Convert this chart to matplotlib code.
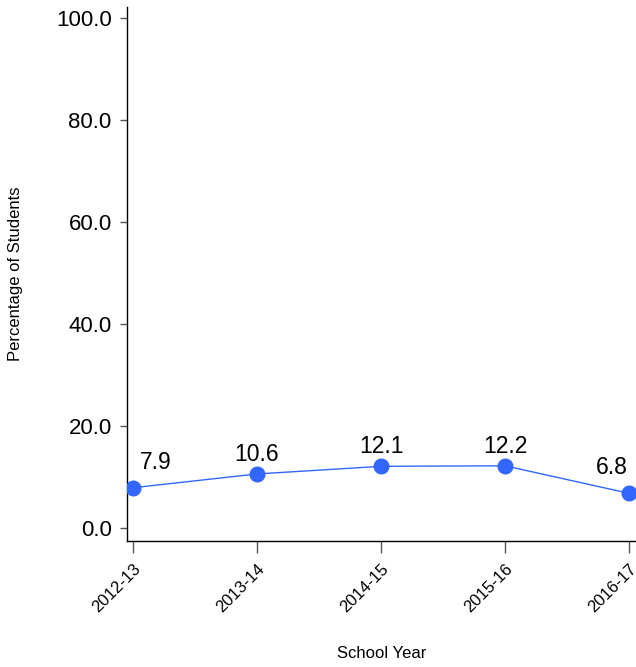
import matplotlib.pyplot as plt

years = ["2012-13", "2013-14", "2014-15", "2015-16", "2016-17"]
pct = [7.9, 10.6, 12.1, 12.2, 6.8]
yticks = [0, 20, 40, 60, 80, 100]

plt.rcParams["font.family"] = ["Liberation Sans", "DejaVu Sans"]

fig = plt.figure(figsize=(6.36, 6.67), dpi=100)
ax = fig.add_axes([127 / 636, 126 / 667, 509 / 636, 534 / 667])

x = list(range(len(years)))
ax.plot(x, pct, color="#3366ff", lw=1, marker="o", ms=10.5, clip_on=True, zorder=3)

# value labels; first nudged right, last nudged left
for i, v in enumerate(pct):
    dx, dy = 0, 8
    if i == 0:
        dx, dy = 23, 14
    elif i == len(pct) - 1:
        dx, dy = -17, 14
    ax.annotate(f"{v:.1f}", (i, v), xytext=(dx * 0.72, dy * 0.72), textcoords="offset points",
                ha="center", va="bottom", fontsize=16.5, color="black")

ax.set_xlim(-0.048, 4.056)
ax.set_ylim(-2.55, 102.2)
ax.set_yticks(yticks)
ax.set_yticklabels([f"{t:.1f}" for t in yticks], fontsize=16)
ax.set_xticks(x)
ax.set_xticklabels(years, rotation=45, ha="right", rotation_mode="anchor", fontsize=12)

ax.tick_params(axis="y", length=5, width=1, color="#555555", pad=6)
ax.tick_params(axis="x", length=8.5, width=1, color="#555555", pad=6)

ax.spines["top"].set_visible(False)
ax.spines["right"].set_visible(False)
ax.spines["left"].set_linewidth(1)
ax.spines["bottom"].set_linewidth(1)

ax.set_xlabel("School Year", fontsize=12)
ax.set_ylabel("Percentage of Students", fontsize=12)
ax.xaxis.set_label_coords(0.5, -0.197)
ax.yaxis.set_label_coords(-0.205, 0.5)

fig.savefig("out.png", dpi=100)
